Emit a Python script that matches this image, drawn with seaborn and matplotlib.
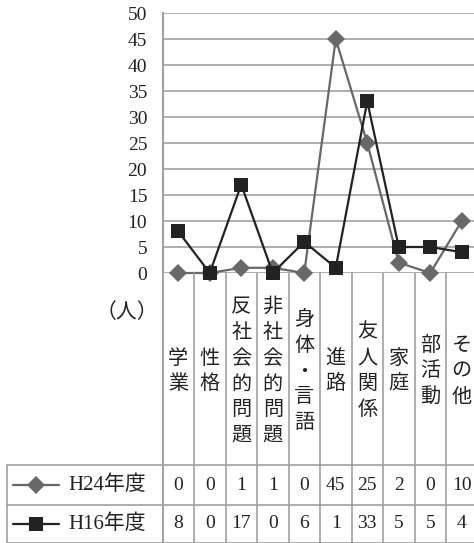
import matplotlib
matplotlib.use("Agg")
import matplotlib.pyplot as plt
from matplotlib.lines import Line2D
from matplotlib.transforms import blended_transform_factory
import pandas as pd
import seaborn as sns

# ---- data ----
categories = ["学業", "性格", "反社会的問題", "非社会的問題", "身体・言語",
              "進路", "友人関係", "家庭", "部活動", "その他"]
h24 = [0, 0, 1, 1, 0, 45, 25, 2, 0, 10]
h16 = [8, 0, 17, 0, 6, 1, 33, 5, 5, 4]
series_names = ["H24年度", "H16年度"]
yticks = list(range(0, 51, 5))
unit_label = "（人）"

W, H = 474, 543
sns.set_theme(style="white")
plt.rcParams["font.family"] = ["Liberation Serif", "Noto Sans CJK JP"]

fig = plt.figure(figsize=(W / 100, H / 100), dpi=100)


def fx(px):
    return px / W


def fy(py):
    return 1 - py / H


# plot area geometry (pixels from top-left)
x_left, col_w = 162.5, 31.5
x_right = x_left + col_w * len(categories)
y_top, y_zero = 13, 273
table_top, row_mid, table_bottom, table_left = 465, 505, 542.5, 7

ax = fig.add_axes([fx(x_left), fy(y_zero), fx(x_right) - fx(x_left), fy(y_top) - fy(y_zero)])

df = pd.DataFrame({
    "pos": list(range(len(categories))) * 2,
    "value": h24 + h16,
    "series": [series_names[0]] * len(categories) + [series_names[1]] * len(categories),
})

colors = {series_names[0]: "#686868", series_names[1]: "#222222"}
markers = {series_names[0]: "D", series_names[1]: "s"}

sns.lineplot(data=df, x="pos", y="value", hue="series", style="series",
             hue_order=series_names, style_order=series_names,
             palette=colors, markers=markers, dashes=False,
             linewidth=1.6, markersize=10, markeredgewidth=0,
             legend=False, ax=ax)
for ln in ax.lines:
    ln.set_clip_on(False)
    if ln.get_marker() == "D":
        ln.set_markersize(9)

ax.set_xlim(-0.5, len(categories) - 0.5)
ax.set_ylim(0, 50)
ax.set_yticks(yticks)
ax.set_yticklabels([str(v) for v in yticks], fontsize=14, color="#222222")
ax.set_xticks([])
ax.set_xlabel("")
ax.set_ylabel("")
ax.tick_params(axis="y", length=0, pad=11)
ax.grid(axis="y", color="#a8a8a8", linewidth=1.3)
ax.set_axisbelow(True)
for side in ["top", "right", "bottom"]:
    ax.spines[side].set_visible(False)
ax.spines["left"].set_color("#a0a0a0")
ax.spines["left"].set_linewidth(1.5)

grid_c = "#a0a0a0"


def fig_line(xs, ys, lw=1.2, color=grid_c):
    fig.add_artist(Line2D([fx(x) for x in xs], [fy(y) for y in ys],
                          transform=fig.transFigure, color=color, linewidth=lw))


# column separators below the plot
for i in range(len(categories) + 1):
    xp = x_left + i * col_w
    fig_line([xp, xp], [y_zero, table_bottom], lw=1.4 if i == 0 else 1.2)

# table borders
fig_line([table_left, W], [table_top, table_top])
fig_line([table_left, W], [row_mid, row_mid])
fig_line([table_left, W], [table_bottom, table_bottom])
fig_line([table_left, table_left], [table_top, table_bottom])

bt = blended_transform_factory(ax.transData, fig.transFigure)

# vertical category labels
label_mid = (y_zero + table_top) / 2
for i, name in enumerate(categories):
    ax.text(i, fy(label_mid + 2), "\n".join(name), transform=bt,
            ha="center", va="center", fontsize=14.5, linespacing=1.3,
            color="#222222", family=["Noto Sans CJK JP"], clip_on=False)

# unit label
fig.text(fx(127), fy(312), unit_label, ha="center", va="center",
         fontsize=15, color="#222222", family=["Noto Sans CJK JP"])

# table rows: legend key, series name, values
rows = [(h24, (table_top + row_mid) / 2), (h16, (row_mid + table_bottom) / 2)]
for (vals, yc), name in zip(rows, series_names):
    c = colors[name]
    fig.add_artist(Line2D([fx(13), fx(59)], [fy(yc), fy(yc)], transform=fig.transFigure,
                          color=c, linewidth=1.6))
    fig.add_artist(Line2D([fx(36)], [fy(yc)], transform=fig.transFigure, color=c,
                          marker=markers[name], markersize=9 if markers[name] == "D" else 10,
                          markeredgewidth=0, linestyle="none"))
    fig.text(fx(68), fy(yc), name, ha="left", va="center", fontsize=15,
             color="#222222")
    for i, v in enumerate(vals):
        ax.text(i, fy(yc), str(v), transform=bt, ha="center", va="center",
                fontsize=14, color="#222222", clip_on=False)

fig.savefig("out.png", dpi=100, facecolor="white")
